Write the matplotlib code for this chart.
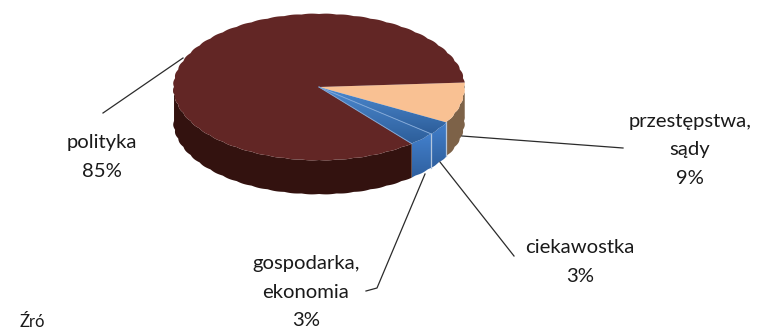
"""3D style pie chart, drawn on a pixel-sized axes."""

import matplotlib.pyplot as plt
import numpy as np
from matplotlib.colors import to_rgb
from matplotlib.patches import PathPatch, Polygon
from matplotlib.path import Path

plt.rcParams["font.family"] = ["Lato", "DejaVu Sans"]

categories = ["przestępstwa,\nsądy", "ciekawostka", "gospodarka,\nekonomia", "polityka"]
values = [9, 3, 3, 85]
percent_labels = ["9%", "3%", "3%", "85%"]

top_colors = ["#F9C193", None, None, "#622625"]
side_colors = ["#7D6248", None, None, "#33120F"]

CX, CY = 319, 87
RX, RY = 146, 73.5
DEPTH = 34
START = 3.5  # degrees, slices run clockwise
LOBES = 26  # the reference rim is slightly scalloped

label_pos = [(690, 150), (580, 262), (306, 292), (102, 157)]
leaders = [
    [(462, 136), (623, 148)],
    [(440, 162), (514, 256)],
    [(425, 174), (377, 288), (366, 291)],
    [(183, 58), (103, 113)],
]


def rim(a0, a1, n=60):
    t = np.radians(np.linspace(a0, a1, n))
    r = 0.993 + 0.007 * np.abs(np.sin(LOBES * t))
    return CX + RX * r * np.cos(t), CY - RY * r * np.sin(t)


def gradient_fill(ax, xy, c0, c1):
    # linear gradient clipped to a polygon
    xy = np.asarray(xy)
    x0, x1 = xy[:, 0].min(), xy[:, 0].max()
    y0, y1 = xy[:, 1].min(), xy[:, 1].max()
    ramp = np.linspace(0, 1, 64)[:, None]
    img = (np.array(to_rgb(c0))[None, :] * (1 - ramp) + np.array(to_rgb(c1))[None, :] * ramp)[:, None, :]
    im = ax.imshow(img, extent=(x0, x1, y1, y0), aspect="auto", zorder=3, origin="upper")
    clip = PathPatch(Path(np.vstack([xy, xy[:1]])), transform=ax.transData, fc="none", ec="none")
    ax.add_patch(clip)
    im.set_clip_path(clip)


fig = plt.figure(figsize=(7.61, 3.30), dpi=100)
ax = fig.add_axes([0, 0, 1, 1])

angles = START - np.cumsum([0] + values) * 3.6

# walls first (only the part below the centre line is visible)
for i, val in enumerate(values):
    hi = angles[i] if side_colors[i] is None else min(angles[i], START if i == 0 else 0)
    lo = max(angles[i + 1], -180)
    if hi <= lo:
        continue
    x, y = rim(hi, lo, 300)
    xy = np.column_stack([np.r_[x, x[::-1]], np.r_[y, y[::-1] + DEPTH]])
    if side_colors[i] is None:
        gradient_fill(ax, xy, "#427FCB", "#2F609F")
        ax.plot(x[[0, 0]], [y[0], y[0] + DEPTH], color="#B5C6DC", lw=0.9, zorder=4)
    else:
        ax.add_patch(Polygon(xy, fc=side_colors[i], ec="none", zorder=2))

# top faces
for i, val in enumerate(values):
    x, y = rim(angles[i], angles[i + 1], 1000)
    xy = np.column_stack([np.r_[CX, x], np.r_[CY, y]])
    if top_colors[i] is None:
        gradient_fill(ax, xy, "#4C89D0", "#2D5E9A")
        ax.plot([CX, x[-1]], [CY, y[-1]], color="#7FA6D6", lw=0.7, zorder=4)
    else:
        ax.add_patch(Polygon(xy, fc=top_colors[i], ec="none", zorder=3))

for pts in leaders:
    p = np.array(pts)
    ax.plot(p[:, 0], p[:, 1], color="#2B2B2B", lw=0.9, zorder=5)

for (x, y), name, pct in zip(label_pos, categories, percent_labels):
    ax.text(x, y, f"{name}\n{pct}", ha="center", va="center", fontsize=14.6,
            color="#1A1A1A", linespacing=1.85)

ax.text(20, 322, "Źró", ha="left", va="center", fontsize=12, color="#1A1A1A")

ax.set_xlim(0, 761)
ax.set_ylim(330, 0)
ax.axis("off")

fig.savefig("out.png", dpi=100)
plt.close(fig)
